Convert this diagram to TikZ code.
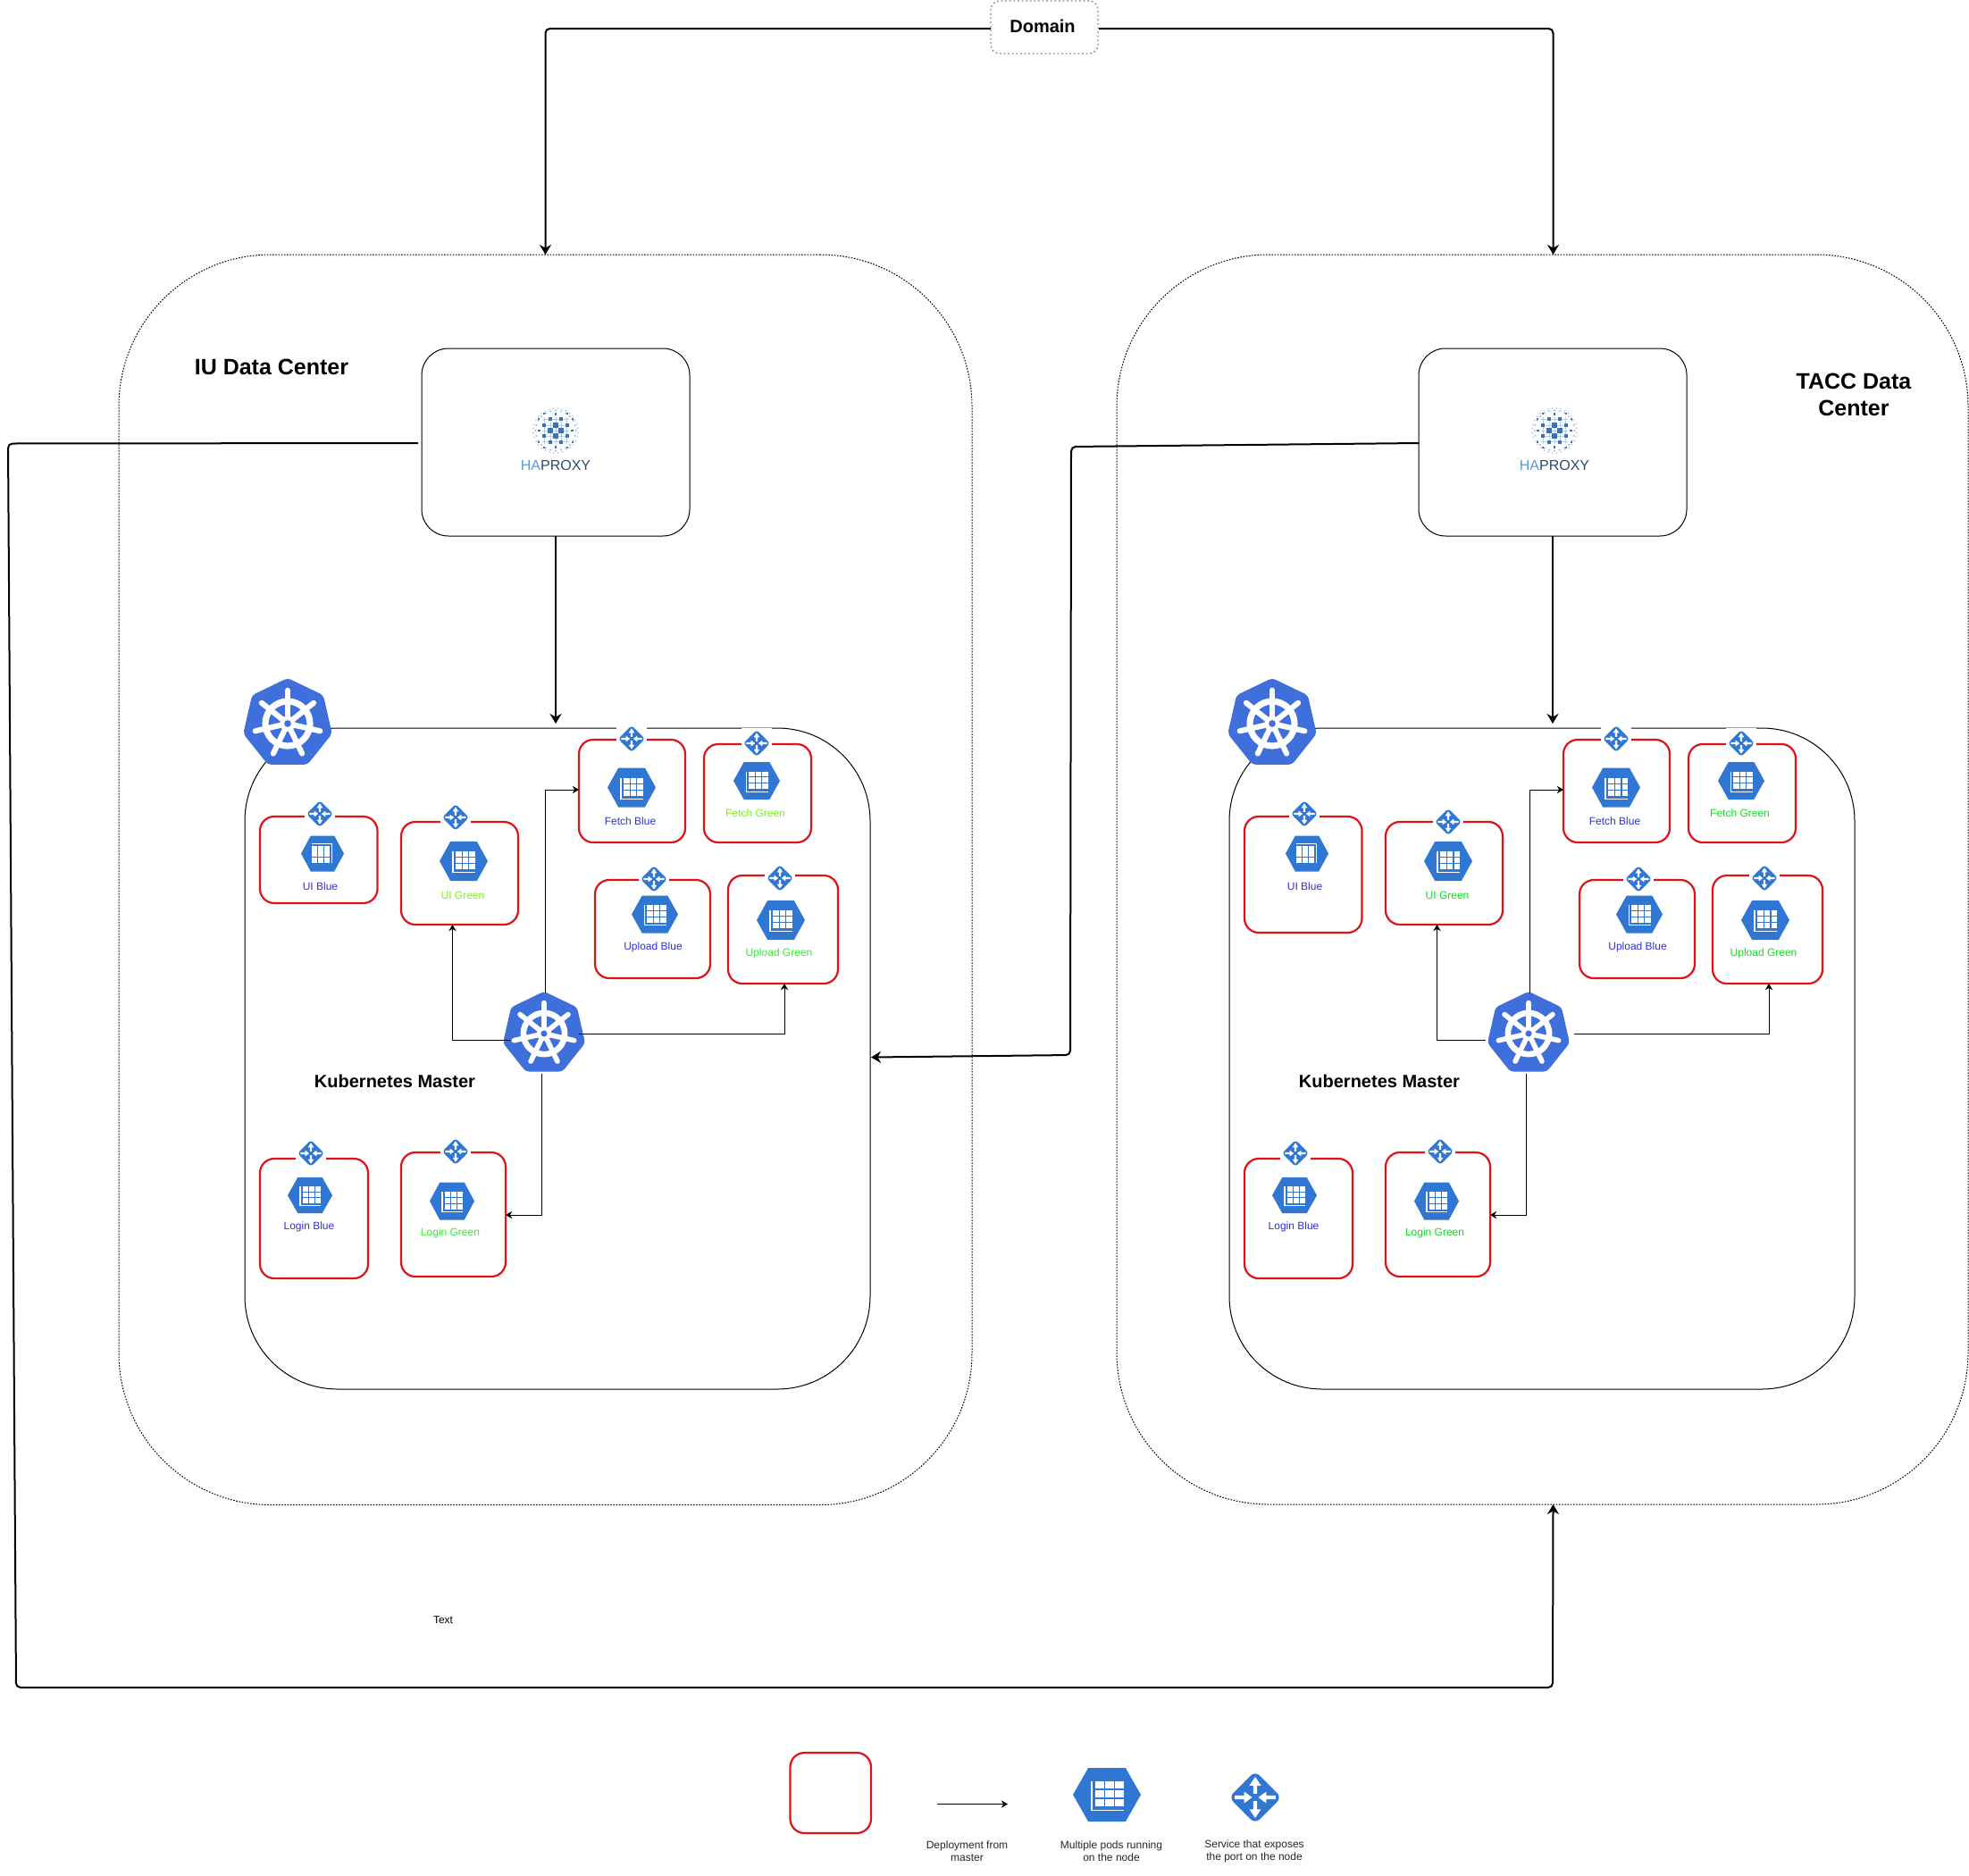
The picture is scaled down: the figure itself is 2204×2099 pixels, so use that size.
\documentclass[tikz,border=0pt]{standalone}
\usepackage{fontspec}
\setmainfont{Liberation Sans}
\usetikzlibrary{arrows.meta,calc}
\definecolor{kubeblue}{HTML}{3F6FDB}
\definecolor{podblue}{HTML}{2F77D2}
\definecolor{redline}{HTML}{E01418}
\definecolor{nameblue}{HTML}{3030E0}
\definecolor{halight}{HTML}{5C9BD0}
\definecolor{hadark}{HTML}{2C4A70}
\definecolor{hadot}{HTML}{3F70B0}
\definecolor{hafine}{HTML}{7FB0DD}
\definecolor{yellowgreen}{HTML}{7DF01E}
\definecolor{limegreen}{HTML}{33EE33}
\definecolor{puregreen}{HTML}{11DD22}
\tikzset{
  x=0.5pt,y=-0.5pt,
  ghost/.style={inner sep=0,outer sep=0,draw=none},
  redbox/.style={draw=redline,line width=1.1pt,rounded corners=8pt,inner sep=0,outer sep=0,fill=white},
  thinbox/.style={draw=black,line width=0.5pt,inner sep=0,outer sep=0},
  dcbox/.style={draw=black,line width=0.5pt,dash pattern=on 0.8pt off 0.8pt,rounded corners=85pt,inner sep=0,outer sep=0},
  bigarrow/.style={draw=black,line width=1pt,rounded corners=2.5pt,-{Stealth[length=5.5pt,width=6.5pt]}},
  smallarrow/.style={draw=black,line width=0.45pt,-{Stealth[length=3.6pt,width=4.2pt]}},
  nametext/.style={inner sep=0,font=\fontsize{6}{7}\selectfont},
  legendtext/.style={inner sep=0,align=center,font=\fontsize{6}{7}\selectfont,text=black!85},
  headtext/.style={inner sep=0,align=center,font=\fontsize{12.5}{15}\bfseries\selectfont},
  subhead/.style={inner sep=0,font=\fontsize{10}{12}\bfseries\selectfont},
}
% rounded box given by its edges
\newcommand\edgebox[6]{\node[#1,minimum width={(#4-#3)*0.5pt},minimum height={(#6-#5)*0.5pt}] (#2) at ({(#3+#4)/2},{(#5+#6)/2}) {};}
% pod icon: flip, name, x, y, half width, half height
\newcommand\podicon[6][1]{%
  \node[ghost,minimum width={#5*1pt},minimum height={#6*1pt}] (#2) at (#3,#4) {};
  \begin{scope}[shift={(#3,#4)},xscale=#1*#5,yscale=#1*#6]
    \fill[podblue] (-1,0)--(-.55,-1)--(.55,-1)--(1,0)--(.55,1)--(-.55,1)--cycle;
    \foreach \i in {0,1,2}{\foreach \j in {0,1,2}{
      \fill[white] ({-.34+\i*.29},{-.5+\j*.325}) rectangle ++(.25,.28);}}
    \fill[white] (-.47,-.5) rectangle (-.42,.6);
    \fill[white] (-.47,.55) rectangle (.49,.6);
  \end{scope}}
% service icon: name, x, y, half size
\newcommand\svcicon[4]{%
  \node[ghost,fill=white,minimum size={(#4+2)*1pt}] (#1) at (#2,#3) {};
  \pgfmathsetmacro\cornerr{#4*0.12}
  \begin{scope}[shift={(#2,#3)},scale=#4]
    \fill[podblue,rounded corners=\cornerr pt] (0,-1)--(1,0)--(0,1)--(-1,0)--cycle;
    \foreach \s in {1,-1}{
      \fill[white] (-.07,{\s*.14}) -- (.07,{\s*.14}) -- (.07,{\s*.45}) -- (.22,{\s*.45}) -- (0,{\s*.78}) -- (-.22,{\s*.45}) -- (-.07,{\s*.45}) -- cycle;
      \fill[white] ({\s*.78},-.07) -- ({\s*.42},-.07) -- ({\s*.42},-.22) -- ({\s*.12},0) -- ({\s*.42},.22) -- ({\s*.42},.07) -- ({\s*.78},.07) -- cycle;}
  \end{scope}}
% kubernetes icon: name, x, y, radius
\newcommand\kubeicon[4]{%
  \node[ghost,minimum width={#4*0.975pt},minimum height={#4*0.95pt}] (#1) at (#2,#3) {};
  \pgfmathsetmacro\ringw{#4*0.07}
  \pgfmathsetmacro\spokew{#4*0.06}
  \pgfmathsetmacro\cornerr{#4*0.04}
  \begin{scope}[shift={(#2,#3)},scale=#4]
    \fill[kubeblue,rounded corners=\cornerr pt] (-90:1)--(-38.57:1)--(12.86:1)--(64.29:1)--(115.71:1)--(167.14:1)--(218.57:1)--cycle;
    \draw[white,line width=\ringw pt] (0,0) circle (.49);
    \foreach \a in {-90,-38.57,12.86,64.29,115.71,167.14,218.57}{
      \draw[white,line width=\spokew pt,line cap=round] (\a:.14) -- (\a:.73);}
    \fill[white] (0,0) circle (.17);
    \fill[kubeblue] (0,0) circle (.075);
  \end{scope}}
% haproxy box: name, left edge, logo x offset
\newcommand\haproxybox[3]{%
  \edgebox{thinbox,rounded corners=15pt}{#1}{#2}{#2+300}{390}{600}
  \begin{scope}[shift={(#1.center)},shift={(#3,-13)}]
    \foreach \i in {-2,...,2}{
      \draw[hafine!60,line width=0.15pt] ({\i*6.3},-15) -- ({\i*6.3},15);
      \draw[hafine!60,line width=0.15pt] (-15,{\i*6.3}) -- (15,{\i*6.3});}
    \foreach \i in {-4,...,4}{\foreach \j in {-4,...,4}{
      \pgfmathtruncatemacro\isodd{mod(abs(\i+\j),2)}
      \pgfmathsetmacro\rr{sqrt(\i*\i+\j*\j)*6.3}
      \pgfmathtruncatemacro\isin{\rr<24?1:0}
      \ifnum\isodd=1\relax\ifnum\isin=1\relax
        \pgfmathsetmacro\sz{7.6-\rr*0.25}
        \fill[hadot] ({\i*6.3-\sz/2},{\j*6.3-\sz/2}) rectangle ++(\sz,\sz);
      \fi\fi}}
    \foreach \a in {0,15,...,345}{\fill[hafine] (\a:22.5) circle (1);}
    \foreach \a in {5,16.25,...,360}{\fill[hafine] (\a:25) circle (0.75);}
  \end{scope}
  \node[inner sep=0,font=\fontsize{8}{9}\selectfont] (#1logo) at ($(#1.center)+(#3,25.5)$) {\textcolor{halight}{HA}\textcolor{hadark}{PROXY}};}
% the cluster: prefix, green 1, green 2, UI Blue bottom, UI Green service x, y, master west x shift, master east x shift
\newcommand\clusterpart[8]{%
  \edgebox{thinbox,rounded corners=52pt}{#1c}{274}{974}{815}{1555}
  \edgebox{redbox}{#1nub}{291}{422.5}{914}{#4}
  \edgebox{redbox}{#1nug}{449}{580}{920}{1035}
  \edgebox{redbox}{#1nfb}{648}{767}{828}{943}
  \edgebox{redbox}{#1nfg}{788}{908}{833}{943}
  \edgebox{redbox}{#1nlb}{666}{795}{985}{1095}
  \edgebox{redbox}{#1nlg}{815}{938}{980}{1101}
  \edgebox{redbox}{#1nib}{291}{412}{1297}{1431}
  \edgebox{redbox}{#1nig}{449}{566}{1290}{1429}
  \svcicon{#1sub}{358}{911}{15}
  \svcicon{#1sug}{#5}{#6}{15}
  \svcicon{#1sfb}{707}{827}{15}
  \svcicon{#1sfg}{847}{832}{15}
  \svcicon{#1slb}{732}{984}{15}
  \svcicon{#1slg}{873}{983}{15}
  \svcicon{#1sib}{348}{1291}{15}
  \svcicon{#1sig}{510}{1289}{15}
  \podicon[-1]{#1pub}{361}{955.5}{24}{20}
  \podicon{#1pug}{519}{964}{27}{22}
  \podicon{#1pfb}{707}{881.5}{27}{22}
  \podicon{#1pfg}{847}{874}{26}{21}
  \podicon{#1plb}{733}{1023.5}{26}{21}
  \podicon{#1plg}{874}{1030}{27}{22}
  \podicon{#1pib}{347}{1338}{25}{20}
  \podicon{#1pig}{506}{1344.5}{25}{21}
  \node[nametext,text=nameblue] (#1tub) at (358.5,992) {UI Blue};
  \node[nametext,text=#2] (#1tug) at (518,1002) {UI Green};
  \node[nametext,text=nameblue] (#1tfb) at (705.5,919) {Fetch Blue};
  \node[nametext,text=#2] (#1tfg) at (845.5,910) {Fetch Green};
  \node[nametext,text=nameblue] (#1tlb) at (731,1060.5) {Upload Blue};
  \node[nametext,text=#3] (#1tlg) at (872,1067.5) {Upload Green};
  \node[nametext,text=nameblue] (#1tib) at (346,1373.5) {Login Blue};
  \node[nametext,text=#3] (#1tig) at (504,1380.5) {Login Green};
  \node[subhead] (#1tk) at (442,1210) {Kubernetes Master};
  \kubeicon{#1ktop}{322}{810}{51}
  \kubeicon{#1m}{609}{1157}{47.2}
  \draw[smallarrow] ([shift={(#7,7)}]#1m.west) -| ([shift={(-8,0)}]#1nug.south);
  \draw[smallarrow] ([shift={(1,0)}]#1m.north) |- ([shift={(0,-1.5)}]#1nfb.west);
  \draw[smallarrow] ([shift={(#8,0)}]#1m.east) -| ([shift={(1.5,0)}]#1nlg.south);
  \draw[smallarrow] ([shift={(-3,0)}]#1m.south) |- ([shift={(0,0.5)}]#1nig.east);
}
\begin{document}
\begin{tikzpicture}
\useasboundingbox (0,0) rectangle (2204,2099);
\fill[white] (0,0) rectangle (2204,2099);

% data centres
\edgebox{dcbox}{dcl}{133}{1088}{285}{1684.5}
\edgebox{dcbox}{dcr}{1250}{2203}{285}{1684}
\node[headtext] (tiu) at (304,411) {IU Data Center};
\node[headtext] (ttacc) at (2075,442) {TACC Data\\Center};

% domain
\edgebox{draw=black!45,line width=0.7pt,dash pattern=on 0.9pt off 1.4pt,rounded corners=5pt,inner sep=0,outer sep=0}{dom}{1109}{1229}{1}{60}
\node[subhead] (domt) at (1167,29) {Domain};

% haproxy
\haproxybox{hl}{472}{0}
\haproxybox{hr}{1588}{2}

% clusters
\clusterpart{a}{yellowgreen}{limegreen}{1011}{510}{915}{8}{-7}
\begin{scope}[shift={(1102,0)}]
\clusterpart{b}{puregreen}{puregreen}{1044}{519}{920}{-2}{5}
\end{scope}

% main connectors
\draw[bigarrow] ([shift={(0,1.5)}]dom.west) -| (dcl.north);
\draw[bigarrow] ([shift={(1,1.5)}]dom.east) -| ([shift={(12,0)}]dcr.north);
\draw[bigarrow] (hl.south) -- ([shift={(-2,-5)}]ac.north);
\draw[bigarrow] (hr.south) -- ([shift={(12,-5)}]bc.north);
\coordinate (bendA) at (9,496.5);
\coordinate (bendB) at (18,1889);
\coordinate (bendC) at (1738,1889);
\coordinate (bendD) at (1199,500);
\coordinate (bendE) at (1198,1181);
\draw[bigarrow] ([shift={(-4,1)}]hl.west) -- (bendA) -- (bendB) -- (bendC) -- ([shift={(12,0)}]dcr.south);
\draw[bigarrow] ([shift={(0,1)}]hr.west) -- (bendD) -- (bendE) -- ([shift={(1,-1.5)}]ac.east);

% stray text
\node[nametext] (txt) at (496,1813) {Text};

% legend
\edgebox{redbox,rounded corners=8pt}{legbox}{884.5}{975}{1962}{2052}
\coordinate (lega) at (1048.5,2019.5);
\coordinate (legb) at (1128,2019.5);
\draw[smallarrow] (lega) -- (legb);
\podicon{legpod}{1239}{2009}{38}{30}
\svcicon{legsvc}{1405}{2012}{29.5}
\node[legendtext] (legt1) at (1082.5,2072.5) {Deployment from\\master};
\node[legendtext] (legt2) at (1244,2072.5) {Multiple pods running\\on the node};
\node[legendtext] (legt3) at (1404,2072.5) {Service that exposes\\the port on the node};
\end{tikzpicture}
\end{document}
